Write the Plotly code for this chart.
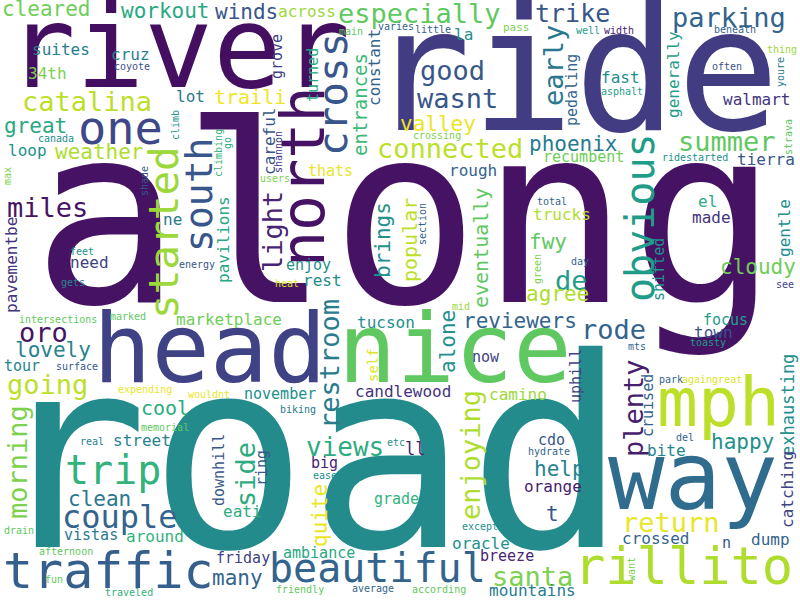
import plotly.graph_objects as go
from plotly.colors import sample_colorscale

# word cloud: words and their relative frequency (largest word = 1.0)
words = [
    "along", "road", "ride", "river", "head", "nice", "way", "mph", "north", "rillito",
    "traffic", "one", "started", "cross", "south", "obvious", "beautiful", "trip",
    "couple", "catalina", "especially", "good", "wasnt", "connected", "miles", "oro",
    "going", "morning", "restroom", "enjoying", "plenty", "rode", "return", "summer",
    "parking", "early", "trike", "light", "side", "de", "santa", "views",
    "cleared", "workout", "winds", "great", "weather", "valley", "lovely", "clean",
    "many", "quite", "alone", "reviewers", "help", "t", "happy", "cloudy", "phoenix",
    "fwy", "agree", "brings", "popular", "eventually", "traili", "cool", "entrances",
    "ll", "exhausting",
    "suites", "cruz", "34th", "lot", "loop", "careful", "la", "constant", "rough",
    "rest", "pavementbe", "ne", "need", "marketplace", "street", "eati", "around",
    "tucson", "candlewood", "camino", "oracle", "orange", "crossed", "dump",
    "mountains", "catching", "town", "gentle", "made", "el", "tierra", "walmart",
    "trucks", "fast", "generally", "bite", "across", "pavilions",
    "turned", "grove", "thats", "enjoy", "tour", "november", "downhill", "ring",
    "vistas", "friday", "ambiance", "breeze", "grade", "big", "now", "cdo", "n",
    "cruised", "uphill", "recumbent", "shifted", "focus", "pedaling", "self",
    "coyote", "canada", "climb", "climbing", "go", "shannon", "users", "max", "shade",
    "main", "varies", "little", "pass", "crossing", "section", "heat", "feet",
    "energy", "gets", "intersections", "marked", "surface", "expending", "wouldnt",
    "memorial", "real", "drain", "afternoon", "fun", "traveled", "friendly",
    "average", "according", "except", "biking", "ease", "etc", "mid", "hydrate",
    "want", "mts", "del", "park", "againgreat", "toasty", "see", "ridestarted",
    "strava", "total", "day", "green", "well", "width", "asphalt", "beneath",
    "thing", "often", "youre",
]
freq = [
    1.0, 1.07, 0.69, 0.46, 0.39, 0.39, 0.38, 0.275, 0.24, 0.21,
    0.2, 0.19, 0.165, 0.165, 0.155, 0.16, 0.16, 0.16,
    0.13, 0.11, 0.11, 0.11, 0.11, 0.11, 0.11, 0.11,
    0.11, 0.11, 0.11, 0.11, 0.11, 0.11, 0.11, 0.11,
    0.11, 0.11, 0.1, 0.11, 0.11, 0.11, 0.11, 0.105,
    0.085, 0.085, 0.085, 0.085, 0.085, 0.085, 0.085, 0.085,
    0.085, 0.085, 0.085, 0.085, 0.085, 0.085, 0.085, 0.085, 0.085,
    0.085, 0.085, 0.085, 0.08, 0.08, 0.08, 0.08, 0.077,
    0.068, 0.068,
    0.065, 0.065, 0.065, 0.065, 0.065, 0.065, 0.065, 0.065, 0.065,
    0.065, 0.065, 0.065, 0.065, 0.065, 0.065, 0.065, 0.065,
    0.065, 0.065, 0.065, 0.065, 0.065, 0.065, 0.065,
    0.065, 0.065, 0.065, 0.065, 0.065, 0.065, 0.065, 0.065,
    0.065, 0.065, 0.065, 0.065, 0.065, 0.065,
    0.06, 0.06, 0.06, 0.06, 0.06, 0.06, 0.06, 0.06,
    0.06, 0.06, 0.06, 0.06, 0.06, 0.06, 0.06, 0.06, 0.06,
    0.06, 0.06, 0.06, 0.06, 0.06, 0.06, 0.056,
    0.04, 0.04, 0.04, 0.04, 0.04, 0.04, 0.04, 0.04, 0.04,
    0.04, 0.04, 0.04, 0.044, 0.04, 0.04, 0.04, 0.04,
    0.04, 0.04, 0.04, 0.04, 0.04, 0.04, 0.04,
    0.04, 0.04, 0.04, 0.04, 0.04, 0.04, 0.04,
    0.04, 0.04, 0.04, 0.04, 0.04, 0.04, 0.04, 0.04,
    0.04, 0.04, 0.04, 0.04, 0.04, 0.04, 0.04, 0.04,
    0.04, 0.04, 0.04, 0.04, 0.04, 0.04, 0.04, 0.04,
    0.04, 0.04, 0.04,
]

# placement of each word on the 800x600 canvas (centre, pixels from top-left)
pos_x = [
    405, 308, 574, 178, 210, 455, 693, 718, 303, 683,
    108, 120, 164, 333, 199, 640, 377, 113,
    120, 87, 419, 452, 457, 450, 47, 43,
    47, 17, 329, 470, 633, 613, 671, 727,
    729, 553, 572, 272, 245, 571, 532, 345,
    46, 165, 246, 35, 99, 438, 53, 99,
    237, 320, 448, 520, 559, 552, 742, 758, 573,
    548, 557, 383, 410, 481, 250, 165, 360,
    415, 788,
    61, 130, 47, 190, 27, 269, 463, 374, 473,
    322, 11, 172, 89, 229, 142, 242, 155,
    386, 403, 518, 481, 553, 655, 770,
    532, 787, 713, 784, 711, 707, 766, 756,
    562, 620, 673, 666, 307, 223,
    313, 277, 330, 308, 22, 280, 219, 262,
    91, 243, 319, 507, 396, 324, 486, 551, 726,
    648, 576, 583, 659, 725, 572, 373,
    132, 56, 175, 218, 227, 278, 275, 7, 144,
    351, 396, 433, 516, 437, 422, 287, 82,
    197, 73, 58, 128, 77, 145, 209,
    165, 92, 19, 66, 54, 129, 300,
    373, 439, 480, 298, 325, 396, 461, 549,
    631, 637, 685, 671, 712, 708, 785, 695,
    788, 552, 580, 537, 588, 619, 622, 735,
    782, 727, 780,
]
pos_y = [
    216, 455, 70, 47, 348, 348, 476, 402, 177, 566,
    571, 127, 233, 95, 195, 218, 568, 470,
    517, 101, 13, 70, 98, 148, 207, 332,
    384, 462, 364, 455, 408, 329, 522, 141,
    17, 66, 13, 232, 475, 280, 576, 447,
    9, 11, 12, 126, 152, 124, 350, 499,
    578, 516, 342, 321, 469, 514, 442, 267, 144,
    242, 294, 240, 240, 248, 97, 408, 105,
    449, 405,
    49, 54, 73, 96, 150, 142, 34, 68, 170,
    280, 265, 219, 262, 319, 440, 511, 536,
    322, 391, 394, 543, 486, 538, 539,
    590, 490, 332, 228, 217, 201, 159, 99,
    214, 77, 75, 450, 11, 240,
    75, 57, 171, 265, 366, 394, 470, 468,
    535, 558, 553, 556, 499, 463, 357, 440, 543,
    406, 376, 157, 270, 320, 90, 365,
    66, 138, 125, 153, 143, 152, 178, 176, 181,
    31, 26, 29, 27, 135, 224, 283, 251,
    264, 282, 319, 316, 366, 389, 394,
    427, 441, 530, 551, 579, 592, 589,
    588, 589, 526, 409, 475, 442, 306, 451,
    569, 346, 437, 379, 379, 342, 284, 157,
    137, 201, 261, 269, 30, 30, 91, 29,
    49, 66, 72,
]
vertical = {
    "north", "started", "cross", "south", "obvious", "morning", "restroom",
    "enjoying", "plenty", "early", "light", "side", "quite", "alone", "brings",
    "popular", "eventually", "entrances", "exhausting", "careful", "constant",
    "pavementbe", "catching", "gentle", "generally", "pavilions", "turned", "grove",
    "downhill", "ring", "cruised", "uphill", "shifted", "pedaling", "self", "climb",
    "climbing", "go", "shannon", "max", "shade", "section", "want", "strava",
    "green", "youre",
}
# position on the viridis scale
shade = [
    0.05, 0.48, 0.18, 0.04, 0.2, 0.75, 0.35, 0.9, 0.05, 0.88,
    0.3, 0.22, 0.85, 0.27, 0.27, 0.55, 0.32, 0.65,
    0.32, 0.9, 0.75, 0.27, 0.27, 0.9, 0.05, 0.05,
    0.9, 0.8, 0.42, 0.88, 0.08, 0.32, 0.97, 0.75,
    0.32, 0.4, 0.27, 0.1, 0.62, 0.55, 0.8, 0.62,
    0.78, 0.6, 0.27, 0.6, 0.88, 0.97, 0.45, 0.4,
    0.32, 0.97, 0.5, 0.32, 0.45, 0.27, 0.5, 0.78, 0.42,
    0.75, 0.88, 0.5, 0.9, 0.75, 0.98, 0.62, 0.68,
    0.08, 0.5,
    0.42, 0.45, 0.8, 0.4, 0.5, 0.27, 0.5, 0.32, 0.32,
    0.48, 0.15, 0.4, 0.2, 0.78, 0.45, 0.62, 0.65,
    0.5, 0.15, 0.85, 0.5, 0.08, 0.32, 0.32,
    0.42, 0.2, 0.25, 0.5, 0.15, 0.62, 0.27, 0.15,
    0.88, 0.5, 0.55, 0.45, 0.85, 0.6,
    0.6, 0.2, 0.97, 0.5, 0.45, 0.5, 0.27, 0.27,
    0.4, 0.2, 0.6, 0.1, 0.65, 0.1, 0.2, 0.27, 0.27,
    0.32, 0.2, 0.78, 0.5, 0.55, 0.32, 0.95,
    0.25, 0.5, 0.5, 0.65, 0.6, 0.15, 0.8, 0.8, 0.27,
    0.75, 0.32, 0.32, 0.8, 0.8, 0.3, 0.95, 0.5,
    0.27, 0.45, 0.75, 0.75, 0.27, 0.97, 0.97,
    0.75, 0.45, 0.75, 0.75, 0.75, 0.65, 0.75,
    0.32, 0.75, 0.5, 0.4, 0.5, 0.5, 0.85, 0.32,
    0.8, 0.32, 0.32, 0.32, 0.95, 0.55, 0.2, 0.5,
    0.75, 0.32, 0.32, 0.8, 0.55, 0.1, 0.55, 0.32,
    0.85, 0.25, 0.4,
]

MAX_SIZE = 248
colors = sample_colorscale("Viridis", shade)

fig = go.Figure()
fig.add_trace(go.Scatter(x=[0, 800], y=[0, 600], mode="markers",
                         marker=dict(opacity=0), hoverinfo="skip", showlegend=False))

for i, w in enumerate(words):
    fig.add_annotation(
        x=pos_x[i], y=pos_y[i], xref="x", yref="y", text=w, showarrow=False,
        xanchor="center", yanchor="middle", borderpad=0,
        textangle=-90 if w in vertical else 0,
        font=dict(family="DejaVu Sans Mono", size=round(MAX_SIZE * freq[i]), color=colors[i]),
    )

fig.update_xaxes(range=[0, 800], visible=False)
fig.update_yaxes(range=[600, 0], visible=False)
fig.update_layout(width=800, height=600, margin=dict(l=0, r=0, t=0, b=0),
                  plot_bgcolor="white", paper_bgcolor="white")
# drop the default 8px page margin so the canvas fills the window
fig.write_html("out.html", config={"displayModeBar": False},
               post_script="document.body.style.margin='0px';")
